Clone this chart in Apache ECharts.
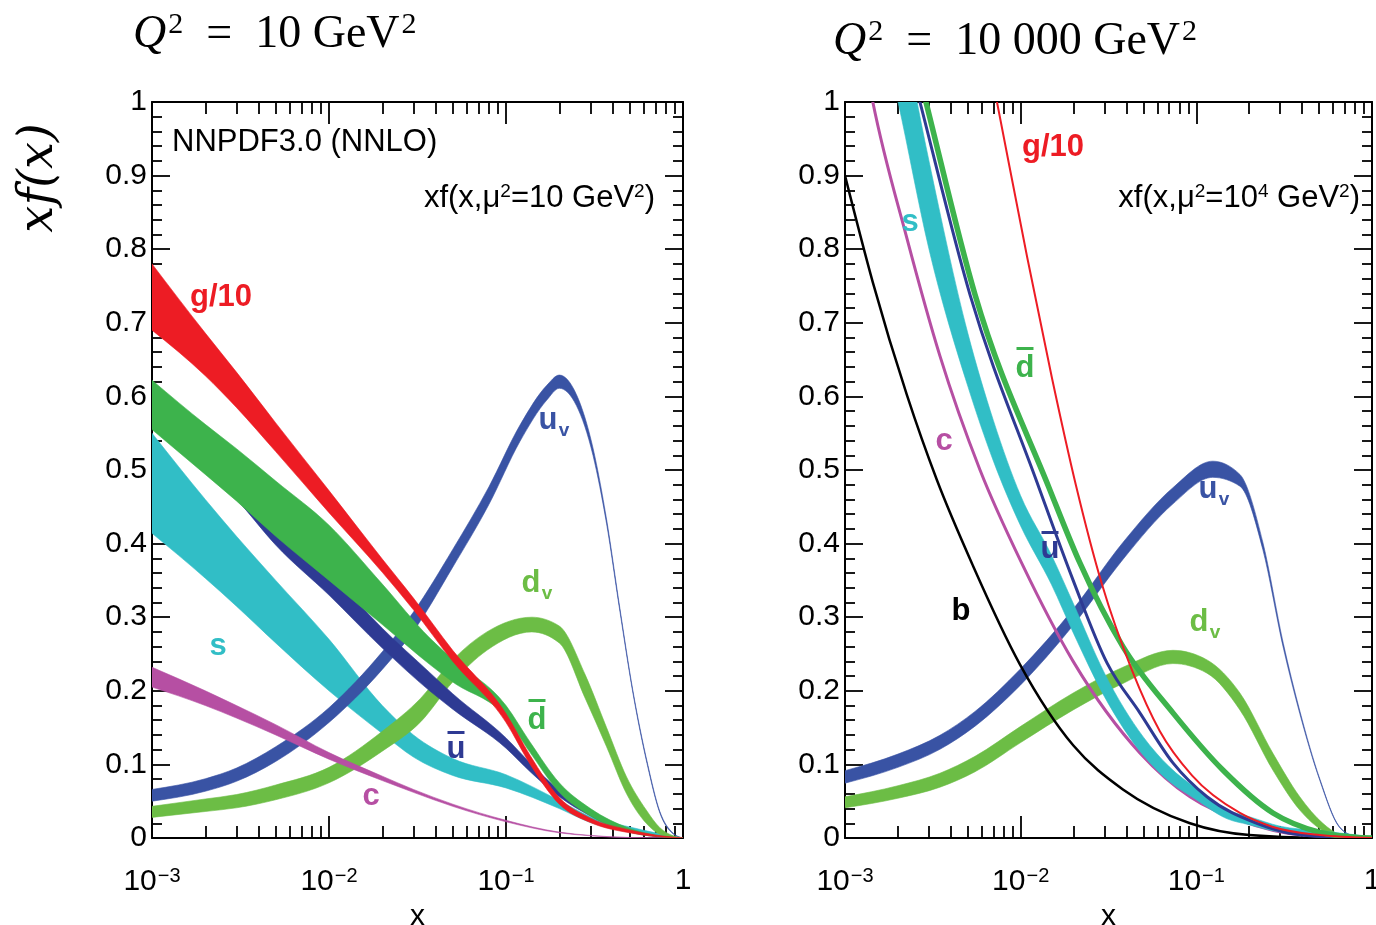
<!DOCTYPE html>
<html>
<head>
<meta charset="utf-8">
<script src="https://cdn.jsdelivr.net/npm/echarts@6/dist/echarts.min.js"></script>
<style>
  html, body { margin: 0; padding: 0; background: #fff; }
  #chart { width: 1376px; height: 925px; }
</style>
</head>
<body>
<div id="chart"></div>
<script>
// ---------- PDF bands at mu^2 = 10 GeV^2 (left panel) ----------
const L_G_X  = [0.001, 0.002, 0.003, 0.005, 0.01, 0.02, 0.03, 0.05, 0.1, 0.137, 0.2, 0.3, 0.5, 0.7, 0.9, 1];
const L_G_LO = [0.69, 0.628, 0.585, 0.525, 0.442, 0.361, 0.31, 0.24, 0.157, 0.10, 0.046, 0.021, 0.007, 0.002, 0.0003, 0];
const L_G_HI = [0.78, 0.686, 0.633, 0.564, 0.472, 0.379, 0.326, 0.255, 0.169, 0.112, 0.055, 0.027, 0.011, 0.004, 0.001, 0];

const L_Q_X   = [0.001, 0.002, 0.003, 0.005, 0.01, 0.02, 0.037, 0.05, 0.1, 0.137, 0.2, 0.3, 0.5, 0.7, 0.9, 1];
const L_DB_LO = [0.555, 0.494, 0.458, 0.41, 0.35, 0.29, 0.236, 0.212, 0.164, 0.116, 0.062, 0.03, 0.008, 0.002, 0.0003, 0];
const L_DB_HI = [0.622, 0.562, 0.529, 0.485, 0.425, 0.345, 0.272, 0.243, 0.18, 0.13, 0.075, 0.04, 0.013, 0.004, 0.0008, 0];
const L_UB_LO = [0.557, 0.50, 0.46, 0.398, 0.33, 0.258, 0.2, 0.175, 0.122, 0.09, 0.056, 0.03, 0.008, 0.002, 0.0003, 0];
const L_UB_HI = [0.59, 0.535, 0.495, 0.434, 0.362, 0.285, 0.225, 0.196, 0.136, 0.102, 0.065, 0.037, 0.011, 0.003, 0.0005, 0];

const L_S_X  = [0.001, 0.002, 0.003, 0.005, 0.01, 0.02, 0.03, 0.05, 0.1, 0.2, 0.3, 0.5, 0.7, 0.9, 1];
const L_S_LO = [0.414, 0.353, 0.315, 0.265, 0.2, 0.142, 0.11, 0.085, 0.068, 0.04, 0.021, 0.008, 0.003, 0.0005, 0];
const L_S_HI = [0.55, 0.46, 0.41, 0.35, 0.27, 0.18, 0.14, 0.108, 0.086, 0.051, 0.029, 0.015, 0.007, 0.002, 0];

const L_C_X  = [0.001, 0.002, 0.003, 0.005, 0.01, 0.02, 0.03, 0.05, 0.1, 0.2, 0.3, 0.5, 1];
const L_C_LO = [0.205, 0.18, 0.163, 0.14, 0.107, 0.078, 0.062, 0.043, 0.022, 0.007, 0.003, 0.0005, 0];
const L_C_HI = [0.232, 0.2, 0.18, 0.154, 0.116, 0.084, 0.066, 0.046, 0.024, 0.008, 0.0035, 0.0007, 0];

const L_UV_X  = [0.001, 0.002, 0.003, 0.005, 0.01, 0.02, 0.03, 0.05, 0.08, 0.12, 0.17, 0.2, 0.25, 0.31, 0.37, 0.44, 0.52, 0.63, 0.74, 0.88, 1];
const L_UV_LO = [0.05, 0.0635, 0.077, 0.104, 0.157, 0.229, 0.281, 0.368, 0.453, 0.539, 0.595, 0.611, 0.5875, 0.52, 0.427, 0.308, 0.1985, 0.0985, 0.034, 0.0055, 0];
const L_UV_HI = [0.066, 0.0805, 0.095, 0.124, 0.177, 0.253, 0.307, 0.392, 0.477, 0.561, 0.615, 0.629, 0.6025, 0.53, 0.433, 0.312, 0.2015, 0.1015, 0.036, 0.0065, 0];

const L_DV_X  = [0.001, 0.002, 0.003, 0.005, 0.01, 0.02, 0.033, 0.05, 0.078, 0.14, 0.2, 0.28, 0.37, 0.48, 0.62, 0.74, 0.88, 1];
const L_DV_LO = [0.028, 0.036, 0.041, 0.052, 0.075, 0.118, 0.158, 0.212, 0.255, 0.28, 0.265, 0.19, 0.124, 0.06, 0.02, 0.005, 0.001, 0];
const L_DV_HI = [0.043, 0.053, 0.059, 0.072, 0.096, 0.145, 0.19, 0.242, 0.28, 0.30, 0.288, 0.222, 0.15, 0.083, 0.038, 0.014, 0.003, 0];

// ---------- PDFs at mu^2 = 10^4 GeV^2 (right panel) ----------
const R_UV_X  = [0.001, 0.002, 0.00347, 0.0055, 0.0099, 0.0199, 0.0382, 0.0736, 0.124, 0.177, 0.239, 0.313, 0.388, 0.505, 0.65, 0.8, 1];
const R_UV_LO = [0.0745, 0.096, 0.1205, 0.152, 0.207, 0.289, 0.3785, 0.454, 0.49, 0.478, 0.392, 0.258, 0.169, 0.078, 0.015, 0.002, 0];
const R_UV_HI = [0.0915, 0.114, 0.1395, 0.172, 0.229, 0.311, 0.4015, 0.476, 0.512, 0.494, 0.402, 0.264, 0.173, 0.08, 0.016, 0.0025, 0];

const R_DV_X  = [0.001, 0.002, 0.00347, 0.0055, 0.0099, 0.0199, 0.0382, 0.0736, 0.115, 0.177, 0.273, 0.388, 0.525, 0.65, 0.8, 1];
const R_DV_LO = [0.041, 0.054, 0.069, 0.09, 0.129, 0.174, 0.21, 0.237, 0.224, 0.174, 0.092, 0.038, 0.01, 0.002, 0.0003, 0];
const R_DV_HI = [0.056, 0.071, 0.088, 0.111, 0.151, 0.197, 0.232, 0.255, 0.242, 0.197, 0.115, 0.056, 0.02, 0.005, 0.001, 0];

const R_S_X  = [0.001, 0.0015, 0.002, 0.003, 0.005, 0.007, 0.01, 0.015, 0.02, 0.03, 0.05, 0.07, 0.1, 0.15, 0.2, 0.3, 0.5, 0.7, 0.9, 1];
const R_S_LO = [1.34, 1.13, 1.001, 0.801, 0.614, 0.512, 0.424, 0.344, 0.278, 0.192, 0.112, 0.077, 0.052, 0.026, 0.018, 0.008, 0.004, 0.002, 0.0005, 0];
const R_S_HI = [1.50, 1.27, 1.131, 0.921, 0.686, 0.567, 0.465, 0.384, 0.318, 0.224, 0.137, 0.097, 0.067, 0.038, 0.029, 0.016, 0.010, 0.006, 0.0025, 0];

const R_B_X = [0.001, 0.00144, 0.00225, 0.00334, 0.00535, 0.0099, 0.0199, 0.0382, 0.092, 0.2, 0.5, 1];
const R_B   = [0.90, 0.755, 0.602, 0.486, 0.37, 0.236, 0.126, 0.066, 0.02, 0.004, 0.0003, 0];

const R_C_X = [0.001, 0.00144, 0.00225, 0.00347, 0.00587, 0.0103, 0.0199, 0.048, 0.092, 0.177, 0.4, 1];
const R_C   = [1.22, 1.0, 0.815, 0.655, 0.5, 0.37, 0.24, 0.115, 0.056, 0.024, 0.004, 0];

const R_UB_X = [0.001, 0.00267, 0.00515, 0.0124, 0.0199, 0.031, 0.0477, 0.0736, 0.115, 0.221, 0.4, 0.7, 1];
const R_UB   = [1.4, 1.0, 0.738, 0.483, 0.35, 0.238, 0.17, 0.102, 0.056, 0.02, 0.004, 0.001, 0];

const R_DB_X = [0.001, 0.00289, 0.0055, 0.0145, 0.0217, 0.0382, 0.0736, 0.142, 0.273, 0.5, 0.8, 1];
const R_DB   = [1.45, 1.0, 0.738, 0.476, 0.374, 0.26, 0.17, 0.092, 0.034, 0.008, 0.001, 0];

const R_G_X = [0.005, 0.00733, 0.01087, 0.01507, 0.0206, 0.029, 0.043, 0.062, 0.0944, 0.177, 0.273, 0.505, 1];
const R_G   = [1.2, 1.0, 0.79, 0.625, 0.48, 0.345, 0.228, 0.145, 0.085, 0.034, 0.015, 0.004, 0];

// ---------- axis ticks ----------
const X_DECADES = [-3, -2, -1];
const X_MINOR_MANTISSA = [2, 3, 4, 5, 6, 7, 8, 9];

// ---------- colours ----------
const RED = '#ed1c24', DBAR = '#3db34c', DV = '#6cbd45', CYAN = '#31bec6',
      MAG = '#b64fa3', UBAR = '#2e3a93', UV = '#3953a4', BLK = '#000000';

const SANS = '"Liberation Sans", Arial, Helvetica, sans-serif';
const SERIF = '"Liberation Serif", "Times New Roman", serif';

const minorLogPositions = [];
X_DECADES.forEach(d => X_MINOR_MANTISSA.forEach(m => minorLogPositions.push(d + Math.log10(m))));

const GRIDS = [
  { left: 152, top: 102, width: 531, height: 736 },
  { left: 845, top: 102, width: 527, height: 736 }
];

const frameLine = { show: true, onZero: false, lineStyle: { color: '#000', width: 2 } };
const tickStyle = { color: '#000', width: 1.8 };

function xAxes(g) {
  const base = {
    type: 'log', logBase: 10, gridIndex: g, min: 0.001, max: 1, splitNumber: 3,
    axisLine: frameLine, splitLine: { show: false },
    axisTick: { show: true, inside: true, length: 22, lineStyle: tickStyle }
  };
  const bottom = Object.assign({}, base, {
    position: 'bottom',
    name: 'x', nameLocation: 'middle', nameGap: 60,
    nameTextStyle: { fontFamily: SANS, fontSize: 30, color: '#000' },
    axisLabel: {
      show: true, margin: 28, color: '#000', fontFamily: SANS, fontSize: 30,
      formatter: v => {
        const e = Math.round(Math.log10(v));
        return e === 0 ? '1' : '10{sup|\u2212' + (-e) + '}';
      },
      rich: { sup: { fontFamily: SANS, fontSize: 20, color: '#000', verticalAlign: 'top', padding: [0, 0, 12, 1] } }
    }
  });
  const top = Object.assign({}, base, { position: 'top', axisLabel: { show: false } });
  const minor = pos => ({
    type: 'value', gridIndex: g, position: pos, min: -3, max: 0,
    axisLine: { show: false, onZero: false }, splitLine: { show: false }, axisLabel: { show: false },
    axisTick: { show: true, inside: true, length: 12, lineStyle: tickStyle, customValues: minorLogPositions }
  });
  return [bottom, top, minor('bottom'), minor('top')];
}

function yAxes(g) {
  const base = {
    type: 'value', gridIndex: g, min: 0, max: 1, interval: 0.1,
    axisLine: frameLine, splitLine: { show: false },
    axisTick: { show: true, inside: true, length: 18, lineStyle: tickStyle },
    minorTick: { show: true, splitNumber: 5, length: 10, lineStyle: tickStyle }
  };
  return [
    Object.assign({}, base, {
      position: 'left',
      axisLabel: {
        show: true, margin: 5, color: '#000', fontFamily: SANS, fontSize: 30,
        formatter: v => (v === 0 ? '0' : (Math.abs(v - 1) < 1e-9 ? '1' : v.toFixed(1)))
      }
    }),
    Object.assign({}, base, { position: 'right', axisLabel: { show: false } })
  ];
}

// Monotone cubic (Fritsch-Carlson style) segments through pixel points, continuing an open path.
function monotoneSegments(pts) {
  const n = pts.length;
  const h = [], s = [];
  for (let i = 0; i < n - 1; i++) {
    h[i] = pts[i + 1][0] - pts[i][0];
    s[i] = h[i] ? (pts[i + 1][1] - pts[i][1]) / h[i] : 0;
  }
  const m = new Array(n);
  for (let i = 1; i < n - 1; i++) {
    const p = (s[i - 1] * h[i] + s[i] * h[i - 1]) / (h[i - 1] + h[i]);
    m[i] = (Math.sign(s[i - 1]) + Math.sign(s[i])) *
           Math.min(Math.abs(s[i - 1]), Math.abs(s[i]), 0.5 * Math.abs(p)) || 0;
  }
  if (n > 2) {
    m[0] = (3 * s[0] - m[1]) / 2;
    m[n - 1] = (3 * s[n - 2] - m[n - 2]) / 2;
  } else {
    m[0] = m[n - 1] = s[0];
  }
  let d = '';
  for (let i = 0; i < n - 1; i++) {
    const x0 = pts[i][0], y0 = pts[i][1], x1 = pts[i + 1][0], y1 = pts[i + 1][1];
    const dx = (x1 - x0) / 3;
    d += 'C' + (x0 + dx) + ',' + (y0 + m[i] * dx) + ' ' + (x1 - dx) + ',' + (y1 - m[i + 1] * dx) + ' ' + x1 + ',' + y1;
  }
  return d;
}

// Uncertainty band: filled region between lower and upper edges.
function bandSeries(g, xs, lo, hi, color) {
  return {
    type: 'custom', xAxisIndex: g * 4, yAxisIndex: g * 2, silent: true, clip: true, animation: false,
    data: xs.map((x, i) => [x, lo[i], hi[i]]),
    encode: { x: 0, y: [1, 2] },
    renderItem: (params, api) => {
      if (params.dataIndex !== 0) return null;
      const up = [], dn = [];
      for (let i = 0; i < xs.length; i++) {
        const xv = api.value(0, i);
        up.push(api.coord([xv, api.value(2, i)]));
        dn.push(api.coord([xv, api.value(1, i)]));
      }
      dn.reverse();
      const d = 'M' + up[0][0] + ',' + up[0][1] + monotoneSegments(up) +
                'L' + dn[0][0] + ',' + dn[0][1] + monotoneSegments(dn) + 'Z';
      return { type: 'path', shape: { pathData: d }, style: { fill: color, stroke: color, lineWidth: 0.6 } };
    }
  };
}

// Single central curve.
function curveSeries(g, xs, ys, color, width) {
  return {
    type: 'custom', xAxisIndex: g * 4, yAxisIndex: g * 2, silent: true, clip: true, animation: false,
    data: xs.map((x, i) => [x, ys[i]]),
    encode: { x: 0, y: 1 },
    renderItem: (params, api) => {
      if (params.dataIndex !== 0) return null;
      const pts = [];
      for (let i = 0; i < xs.length; i++) pts.push(api.coord([api.value(0, i), api.value(1, i)]));
      const d = 'M' + pts[0][0] + ',' + pts[0][1] + monotoneSegments(pts);
      return { type: 'path', shape: { pathData: d }, style: { fill: 'none', stroke: color, lineWidth: width } };
    }
  };
}

const series = [
  // left panel
  bandSeries(0, L_S_X, L_S_LO, L_S_HI, CYAN),
  bandSeries(0, L_UV_X, L_UV_LO, L_UV_HI, UV),
  bandSeries(0, L_DV_X, L_DV_LO, L_DV_HI, DV),
  bandSeries(0, L_C_X, L_C_LO, L_C_HI, MAG),
  bandSeries(0, L_Q_X, L_UB_LO, L_UB_HI, UBAR),
  bandSeries(0, L_Q_X, L_DB_LO, L_DB_HI, DBAR),
  bandSeries(0, L_G_X, L_G_LO, L_G_HI, RED),
  // right panel
  bandSeries(1, R_UV_X, R_UV_LO, R_UV_HI, UV),
  bandSeries(1, R_DV_X, R_DV_LO, R_DV_HI, DV),
  curveSeries(1, R_B_X, R_B, BLK, 2.5),
  curveSeries(1, R_C_X, R_C, MAG, 3),
  bandSeries(1, R_S_X, R_S_LO, R_S_HI, CYAN),
  curveSeries(1, R_UB_X, R_UB, UBAR, 3),
  curveSeries(1, R_DB_X, R_DB, DBAR, 5.5),
  curveSeries(1, R_G_X, R_G, RED, 2)
];

// ---------- text annotations ----------
function label(x, y, text, color, size, extra) {
  return {
    type: 'text', x: x, y: y, z: 100, silent: true,
    style: Object.assign({
      text: text, fill: color, font: 'bold ' + size + 'px ' + SANS,
      textAlign: 'center', textVerticalAlign: 'middle', align: 'center', verticalAlign: 'middle'
    }, extra || {})
  };
}
function bar(cx, y, w, color) {
  return { type: 'rect', z: 100, silent: true, shape: { x: cx - w / 2, y: y, width: w, height: 3 }, style: { fill: color } };
}
function withSub(x, y, main, sub, color) {
  return [label(x, y, main, color, 31), label(x + 16, y + 11, sub, color, 19)];
}
function plain(x, y, text, size, align) {
  return {
    type: 'text', x: x, y: y, z: 100, silent: true,
    style: {
      text: text, fill: '#000', font: size + 'px ' + SANS,
      textAlign: align, align: align, textVerticalAlign: 'middle', verticalAlign: 'middle',
      rich: { sup: { fontFamily: SANS, fontSize: 19, fill: '#000', color: '#000', verticalAlign: 'top', padding: [0, 0, 10, 0] } }
    }
  };
}
function title(x, y, numberText) {
  return {
    type: 'text', x: x, y: y, z: 100, silent: true,
    style: {
      text: '{q|Q}{s|2}{t|  =  ' + numberText + ' GeV}{s|2}',
      fill: '#000', font: '46px ' + SERIF, textAlign: 'left', align: 'left',
      textVerticalAlign: 'middle', verticalAlign: 'middle',
      rich: {
        q: { fontFamily: SERIF, fontStyle: 'italic', fontSize: 46, fill: '#000', color: '#000' },
        t: { fontFamily: SERIF, fontSize: 46, fill: '#000', color: '#000' },
        s: { fontFamily: SERIF, fontSize: 30, fill: '#000', color: '#000', verticalAlign: 'top', padding: [0, 0, 20, 2] }
      }
    }
  };
}

const graphics = [].concat(
  [title(133, 35, '10'), title(833, 42, '10 000')],
  [{
    type: 'text', x: 40, y: 178, rotation: Math.PI / 2, z: 100, silent: true,
    style: {
      text: 'xf(x)', fill: '#000', font: 'italic 48px "DejaVu Serif", serif',
      textAlign: 'center', align: 'center', textVerticalAlign: 'middle', verticalAlign: 'middle'
    }
  }],
  [plain(172, 142, 'NNPDF3.0 (NNLO)', 31, 'left')],
  [plain(655, 198, 'xf(x,\u03bc{sup|2}=10 GeV{sup|2})', 31, 'right')],
  [plain(1360, 198, 'xf(x,\u03bc{sup|2}=10{sup|4} GeV{sup|2})', 31, 'right')],
  // left panel curve names
  [label(190, 297, 'g/10', RED, 31, { textAlign: 'left', align: 'left' })],
  [label(218, 646, 's', CYAN, 31)],
  [label(371, 796, 'c', MAG, 31)],
  [label(456, 749, 'u', UBAR, 31), bar(456, 731, 17, UBAR)],
  [label(537, 720, 'd', DBAR, 31), bar(537, 699, 17, DBAR)],
  withSub(548, 420, 'u', 'v', UV),
  withSub(531, 583, 'd', 'v', DV),
  // right panel curve names
  [label(1022, 147, 'g/10', RED, 31, { textAlign: 'left', align: 'left' })],
  [label(910, 222, 's', CYAN, 31)],
  [label(1025, 368, 'd', DBAR, 31), bar(1025, 347, 17, DBAR)],
  [label(944, 441, 'c', MAG, 31)],
  withSub(1208, 489, 'u', 'v', UV),
  [label(1050, 549, 'u', UBAR, 31), bar(1050, 531, 17, UBAR)],
  [label(961, 611, 'b', BLK, 31)],
  withSub(1199, 622, 'd', 'v', DV)
);

const chart = echarts.init(document.getElementById('chart'), null, { renderer: 'canvas' });
chart.setOption({
  backgroundColor: '#ffffff',
  animation: false,
  grid: GRIDS.map(g => Object.assign({ containLabel: false, outerBoundsMode: 'none' }, g)),
  xAxis: [].concat(xAxes(0), xAxes(1)),
  yAxis: [].concat(yAxes(0), yAxes(1)),
  series: series,
  graphic: graphics
});
</script>
</body>
</html>
